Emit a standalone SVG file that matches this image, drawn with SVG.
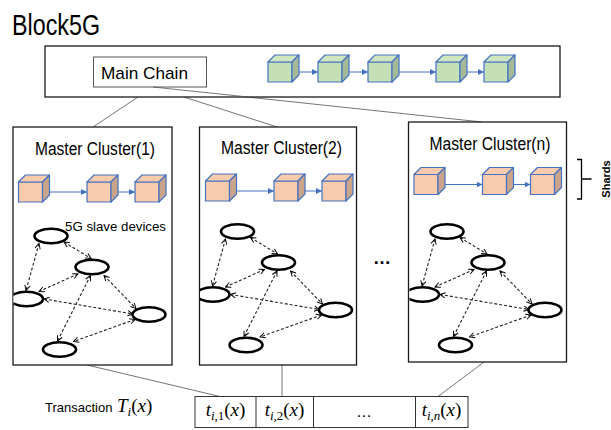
<svg xmlns="http://www.w3.org/2000/svg" xmlns:xlink="http://www.w3.org/1999/xlink" width="611" height="430" viewBox="0 0 611 430">
<style>
.sans{font-family:"Liberation Sans",Arial,sans-serif;fill:#000}
.math{font-family:"Liberation Serif","Times New Roman",serif;fill:#000}
.box{fill:#fff;stroke:#1a1a1a;stroke-width:1.3}
.link{stroke:#505050;stroke-width:0.8;fill:none}
.chain{stroke:#4472c4;stroke-width:1;fill:none;marker-end:url(#tri)}
.dev{fill:#fff;stroke:#000;stroke-width:2.6}
.p2p{stroke:#222;stroke-width:1.1;stroke-dasharray:3,2;fill:none;marker-start:url(#vee);marker-end:url(#vee)}
.cs{stroke:#4472c4;stroke-width:1.2;stroke-linejoin:round}
</style>
<defs>
<marker id="tri" viewBox="0 0 6 6" refX="6" refY="3" markerWidth="6" markerHeight="6" markerUnits="userSpaceOnUse" orient="auto"><path d="M0,0 L6,3 L0,6 z" fill="#4472c4"/></marker>
<marker id="vee" viewBox="0 0 8 8" refX="7" refY="4" markerWidth="7" markerHeight="7" markerUnits="userSpaceOnUse" orient="auto-start-reverse"><path d="M1,1 L7,4 L1,7" fill="none" stroke="#000" stroke-width="1.1"/></marker>
<g id="cube-g">
<rect x="0" y="7" width="24" height="20" fill="#c5e0b4" class="cs"/>
<polygon points="0,7 7,0 31,0 24,7" fill="#cfe5c0" class="cs"/>
<polygon points="24,7 31,0 31,20 24,27" fill="#a4b995" class="cs"/>
</g>
<g id="cube-o">
<rect x="0" y="7" width="24" height="20" fill="#f8cbad" class="cs"/>
<polygon points="0,7 7,0 31,0 24,7" fill="#f8cbad" class="cs"/>
<polygon points="24,7 31,0 31,20 24,27" fill="#c9a48a" class="cs"/>
</g>
<clipPath id="clipL"><rect x="13.5" y="0" width="200" height="430"/></clipPath>
<g id="graph">
<line class="p2p" x1="64" y1="242" x2="91" y2="258.5"/>
<line class="p2p" x1="39" y1="243.5" x2="26" y2="290.5"/>
<line class="p2p" x1="78" y1="274" x2="39" y2="291.5"/>
<line class="p2p" x1="104" y1="275.5" x2="136" y2="308.5"/>
<line class="p2p" x1="90.5" y1="275.5" x2="57.5" y2="341"/>
<line class="p2p" x1="44" y1="299" x2="133" y2="314"/>
<line class="p2p" x1="135" y1="319.5" x2="73.5" y2="341.5"/>
<ellipse class="dev" cx="51" cy="236" rx="16.5" ry="7.3"/>
<ellipse class="dev" cx="92" cy="267" rx="16.5" ry="7.3"/>
<ellipse class="dev" cx="26.5" cy="299" rx="16.5" ry="7.3" clip-path="url(#clipL)"/>
<ellipse class="dev" cx="149" cy="314.5" rx="16.5" ry="7.3"/>
<ellipse class="dev" cx="59.5" cy="349.5" rx="16.5" ry="7.3"/>
</g>
</defs>

<text class="sans" x="12" y="35" font-size="29" textLength="88" lengthAdjust="spacingAndGlyphs">Block5G</text>

<g id="connectors">
<line class="link" x1="153" y1="87" x2="93" y2="127"/>
<line class="link" x1="153" y1="87" x2="277" y2="127"/>
<line class="link" x1="153" y1="87" x2="482" y2="122"/>
<line class="link" x1="87" y1="365" x2="220" y2="396.5"/>
<line class="link" x1="282" y1="365" x2="282" y2="396.5"/>
<line class="link" x1="484" y1="362" x2="438" y2="396.5"/>
</g>

<g id="main-chain">
<rect class="box" x="45" y="46" width="515" height="51" stroke-width="1.6"/>
<rect x="93.5" y="57" width="113" height="30" fill="#fff" stroke="#555" stroke-width="1"/>
<text class="sans" x="101" y="78.5" font-size="17" textLength="87" lengthAdjust="spacingAndGlyphs">Main Chain</text>
<line class="link" x1="153" y1="87" x2="248" y2="97"/>
<use xlink:href="#cube-g" x="268" y="55"/>
<use xlink:href="#cube-g" x="318" y="55"/>
<use xlink:href="#cube-g" x="368" y="55"/>
<use xlink:href="#cube-g" x="436" y="55"/>
<use xlink:href="#cube-g" x="484" y="55"/>
<line class="chain" x1="299" y1="72" x2="318" y2="72"/>
<line class="chain" x1="349" y1="72" x2="368" y2="72"/>
<line class="chain" x1="399" y1="72" x2="436" y2="72"/>
<line class="chain" x1="467" y1="72" x2="484" y2="72"/>
</g>

<g id="cluster-1">
<rect class="box" x="13" y="127" width="159" height="238"/>
<text class="sans" x="35" y="154.5" font-size="17.5" textLength="120" lengthAdjust="spacingAndGlyphs">Master Cluster(1)</text>
<use xlink:href="#cube-o" x="18.5" y="175"/>
<use xlink:href="#cube-o" x="87" y="175"/>
<use xlink:href="#cube-o" x="135" y="175"/>
<line class="chain" x1="49.5" y1="192" x2="87" y2="192"/>
<line class="chain" x1="118" y1="192" x2="135" y2="192"/>
<text class="sans" x="65" y="231" font-size="13.5" textLength="101" lengthAdjust="spacingAndGlyphs">5G slave devices</text>
<use xlink:href="#graph"/>
</g>

<g id="cluster-2">
<rect class="box" x="199.5" y="127" width="157" height="238"/>
<text class="sans" x="221" y="153.5" font-size="17.5" textLength="121" lengthAdjust="spacingAndGlyphs">Master Cluster(2)</text>
<use xlink:href="#cube-o" x="205.5" y="174"/>
<use xlink:href="#cube-o" x="274" y="174"/>
<use xlink:href="#cube-o" x="322" y="174"/>
<line class="chain" x1="236.5" y1="191" x2="274" y2="191"/>
<line class="chain" x1="305" y1="191" x2="322" y2="191"/>
<use xlink:href="#graph" x="186.5" y="-4.5"/>
</g>

<text class="sans" x="382" y="264" font-size="18" font-weight="bold" text-anchor="middle">…</text>

<g id="cluster-n">
<rect class="box" x="408.5" y="122" width="158" height="240"/>
<text class="sans" x="429.5" y="150" font-size="17.5" textLength="121" lengthAdjust="spacingAndGlyphs">Master Cluster(n)</text>
<use xlink:href="#cube-o" x="414" y="167.5"/>
<use xlink:href="#cube-o" x="482.5" y="167.5"/>
<use xlink:href="#cube-o" x="530.5" y="167.5"/>
<line class="chain" x1="445" y1="184.5" x2="482.5" y2="184.5"/>
<line class="chain" x1="513.5" y1="184.5" x2="530.5" y2="184.5"/>
<use xlink:href="#graph" x="396" y="-4.5"/>
</g>

<g id="shards">
<path d="M577,159.5 H581.5 V199 H577 M581.5,179 H591.5" fill="none" stroke="#000" stroke-width="1.3"/>
<text class="sans" transform="translate(610,179) rotate(-90)" font-size="11" font-weight="bold" text-anchor="middle">Shards</text>
</g>

<g id="transaction">
<text class="sans" x="45" y="411.5" font-size="13">Transaction</text>
<text class="math" x="117" y="411.5" font-size="19"><tspan font-style="italic">T</tspan><tspan font-size="13" dy="4" font-style="italic">i</tspan><tspan dy="-4">(</tspan><tspan font-style="italic">x</tspan>)</text>
<rect x="195" y="396.5" width="273" height="31" fill="#fff" stroke="#333" stroke-width="1"/>
<line x1="256" y1="396.5" x2="256" y2="427.5" stroke="#333" stroke-width="1"/>
<line x1="313.5" y1="396.5" x2="313.5" y2="427.5" stroke="#333" stroke-width="1"/>
<line x1="415.5" y1="396.5" x2="415.5" y2="427.5" stroke="#333" stroke-width="1"/>
<text class="math" x="225.5" y="415.5" font-size="19" text-anchor="middle"><tspan font-style="italic">t</tspan><tspan font-size="13" dy="4"><tspan font-style="italic">i</tspan>,1</tspan><tspan dy="-4">(</tspan><tspan font-style="italic">x</tspan>)</text>
<text class="math" x="284.5" y="415.5" font-size="19" text-anchor="middle"><tspan font-style="italic">t</tspan><tspan font-size="13" dy="4"><tspan font-style="italic">i</tspan>,2</tspan><tspan dy="-4">(</tspan><tspan font-style="italic">x</tspan>)</text>
<text class="sans" x="364" y="417" font-size="16" text-anchor="middle">…</text>
<text class="math" x="441.5" y="415.5" font-size="19" text-anchor="middle"><tspan font-style="italic">t</tspan><tspan font-size="13" dy="4" font-style="italic">i,n</tspan><tspan dy="-4">(</tspan><tspan font-style="italic">x</tspan>)</text>
</g>
</svg>
